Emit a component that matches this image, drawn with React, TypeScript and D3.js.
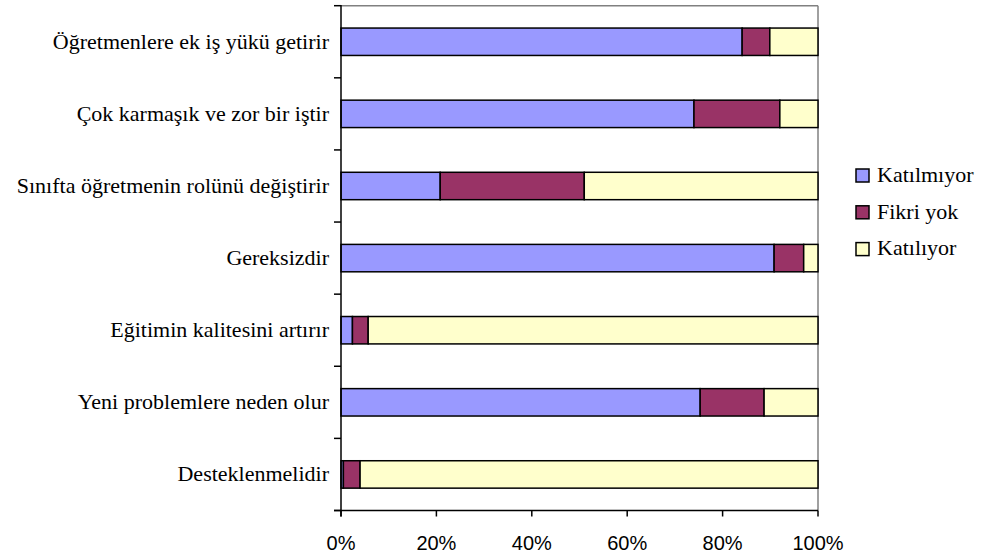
import React from "react";
import * as d3 from "d3";

const categories = [
  "Öğretmenlere ek iş yükü getirir",
  "Çok karmaşık ve zor bir iştir",
  "Sınıfta öğretmenin rolünü değiştirir",
  "Gereksizdir",
  "Eğitimin kalitesini artırır",
  "Yeni problemlere neden olur",
  "Desteklenmelidir",
];
const seriesNames = ["Katılmıyor", "Fikri yok", "Katılıyor"];
const katilmiyor = [84.1, 74.0, 20.8, 90.8, 2.4, 75.3, 0.5];
const fikriYok = [5.8, 18.0, 30.2, 6.2, 3.3, 13.4, 3.5];
const katiliyor = [10.1, 8.0, 49.0, 3.0, 94.3, 11.3, 96.0];
const colors = ["#9999FF", "#993366", "#FFFFCC"];
const xTicks = [0, 20, 40, 60, 80, 100];

const W = 981;
const H = 556;
const left = 341;
const right = 818;
const top = 5.7;
const bottom = 510.5;

const serifFont = "Liberation Serif";
const sansFont = "Arial";

export default function App() {
  const x = d3.scaleLinear().domain([0, 100]).range([left, right]);
  const y = d3
    .scaleBand<string>()
    .domain(categories)
    .range([top, bottom])
    .paddingInner(0.62)
    .paddingOuter(0.31);
  const step = y.step();

  const stackData = categories.map((c, i) => ({
    cat: c,
    [seriesNames[0]]: katilmiyor[i],
    [seriesNames[1]]: fikriYok[i],
    [seriesNames[2]]: katiliyor[i],
  }));
  const series = d3
    .stack<any>()
    .keys(seriesNames)
    .offset(d3.stackOffsetExpand)(stackData);

  const boundaries = d3.range(categories.length + 1).map((i) => top + i * step);

  return (
    <svg
      width={W}
      height={H}
      style={{ position: "absolute", left: 0, top: 0, background: "#fff" }}
    >
      <line x1={left} x2={right} y1={top} y2={top} stroke="#808080" strokeWidth={1.5} />
      <line x1={right} x2={right} y1={top} y2={bottom} stroke="#808080" strokeWidth={1.5} />

      {series.map((s, si) =>
        s.map((d, i) => {
          const cat = (d.data as any).cat as string;
          return (
            <rect
              key={si + "-" + i}
              x={x(d[0] * 100)}
              y={y(cat)!}
              width={x(d[1] * 100) - x(d[0] * 100)}
              height={y.bandwidth()}
              fill={colors[si]}
              stroke="#000"
              strokeWidth={1.5}
            />
          );
        })
      )}

      <line x1={left} x2={left} y1={top - 0.7} y2={bottom + 6} stroke="#000" strokeWidth={1.5} />
      {boundaries.map((b, i) => (
        <line key={"yt" + i} x1={left - 7} x2={left} y1={b} y2={b} stroke="#000" strokeWidth={1.5} />
      ))}
      <line x1={left - 7} x2={right} y1={bottom} y2={bottom} stroke="#000" strokeWidth={1.5} />
      {xTicks.map((t) => (
        <g key={"xt" + t}>
          <line x1={x(t)} x2={x(t)} y1={bottom} y2={bottom + 6} stroke="#000" strokeWidth={1.5} />
          <text x={x(t)} y={550} textAnchor="middle" fontFamily={sansFont} fontSize={20} fill="#000">
            {t + "%"}
          </text>
        </g>
      ))}

      {categories.map((c) => (
        <text
          key={c}
          x={329}
          y={y(c)! + y.bandwidth() / 2 + 7}
          textAnchor="end"
          fontFamily={serifFont}
          fontSize={22}
          fill="#000"
        >
          {c}
        </text>
      ))}

      {seriesNames.map((n, i) => (
        <g key={n} transform={`translate(856, ${169 + i * 36.8})`}>
          <rect x={0} y={0} width={13} height={13} fill={colors[i]} stroke="#000" strokeWidth={1.5} />
          <text x={21} y={12.8} fontFamily={serifFont} fontSize={22} fill="#000">
            {n}
          </text>
        </g>
      ))}
    </svg>
  );
}
